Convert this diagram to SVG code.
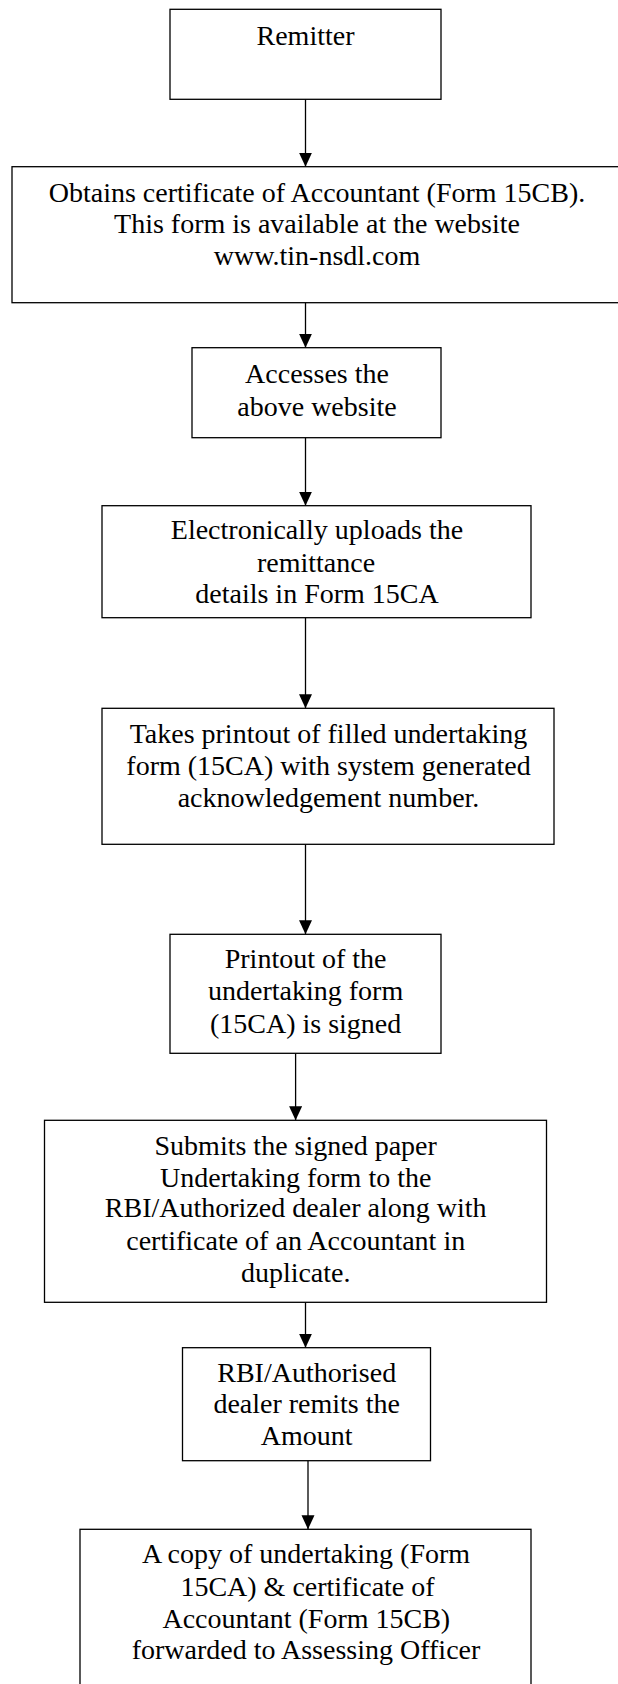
<svg xmlns="http://www.w3.org/2000/svg" width="618" height="1684" viewBox="0 0 618 1684">
  <style>
    .box { fill: #ffffff; stroke: #000000; stroke-width: 1.3; }
    .lbl { font-family: "Liberation Serif", "Times New Roman", serif; font-size: 28px; fill: #000000; text-anchor: middle; }
    .conn { stroke: #000000; stroke-width: 1.3; fill: none; marker-end: url(#arrow); }
  </style>
  <defs>
    <marker id="arrow" markerUnits="userSpaceOnUse" markerWidth="14" markerHeight="14" refX="14" refY="6.5" orient="auto">
      <path d="M0,0 L14,6.5 L0,13 Z" fill="#000000"/>
    </marker>
  </defs>
  <rect width="618" height="1684" fill="#ffffff"/>

  <g id="connectors">
    <line class="conn" x1="305.5" y1="99.3" x2="305.5" y2="166.7"/>
    <line class="conn" x1="305.5" y1="302.7" x2="305.5" y2="347.7"/>
    <line class="conn" x1="305.5" y1="437.7" x2="305.5" y2="505.7"/>
    <line class="conn" x1="305.5" y1="617.7" x2="305.5" y2="708.3"/>
    <line class="conn" x1="305.5" y1="844.3" x2="305.5" y2="934.3"/>
    <line class="conn" x1="295.6" y1="1053.3" x2="295.6" y2="1120.3"/>
    <line class="conn" x1="305.5" y1="1302.3" x2="305.5" y2="1347.7"/>
    <line class="conn" x1="308" y1="1460.7" x2="308" y2="1529.3"/>
  </g>

  <g id="n1">
    <rect class="box" x="170" y="9.3" width="271" height="90"/>
    <text class="lbl" x="305.5" y="45">Remitter</text>
  </g>

  <g id="n2">
    <rect class="box" x="12" y="166.7" width="620" height="136"/>
    <text class="lbl" x="317" y="201.7">Obtains certificate of Accountant (Form 15CB).</text>
    <text class="lbl" x="317" y="233.3">This form is available at the website</text>
    <text class="lbl" x="317" y="265">www.tin-nsdl.com</text>
  </g>

  <g id="n3">
    <rect class="box" x="192" y="347.7" width="249" height="90"/>
    <text class="lbl" x="317" y="383.3">Accesses the</text>
    <text class="lbl" x="317" y="415.7">above website</text>
  </g>

  <g id="n4">
    <rect class="box" x="102" y="505.7" width="429" height="112"/>
    <text class="lbl" x="317" y="539.3">Electronically uploads the</text>
    <text class="lbl" x="316" y="571.7">remittance</text>
    <text class="lbl" x="317" y="603.3">details in Form 15CA</text>
  </g>

  <g id="n5">
    <rect class="box" x="102" y="708.3" width="452" height="136"/>
    <text class="lbl" x="328.5" y="743.3">Takes printout of filled undertaking</text>
    <text class="lbl" x="328.5" y="775">form (15CA) with system generated</text>
    <text class="lbl" x="328.5" y="806.7">acknowledgement number.</text>
  </g>

  <g id="n6">
    <rect class="box" x="170" y="934.3" width="271" height="119"/>
    <text class="lbl" x="305.6" y="968.3">Printout of the</text>
    <text class="lbl" x="305.6" y="1000">undertaking form</text>
    <text class="lbl" x="305.6" y="1032.7">(15CA) is signed</text>
  </g>

  <g id="n7">
    <rect class="box" x="44.5" y="1120.3" width="502" height="182"/>
    <text class="lbl" x="295.7" y="1155">Submits the signed paper</text>
    <text class="lbl" x="295.7" y="1186.7">Undertaking form to the</text>
    <text class="lbl" x="295.7" y="1217.3">RBI/Authorized dealer along with</text>
    <text class="lbl" x="295.7" y="1250">certificate of an Accountant in</text>
    <text class="lbl" x="295.7" y="1281.7">duplicate.</text>
  </g>

  <g id="n8">
    <rect class="box" x="182.5" y="1347.7" width="248" height="113"/>
    <text class="lbl" x="306.7" y="1381.7">RBI/Authorised</text>
    <text class="lbl" x="306.7" y="1413.3">dealer remits the</text>
    <text class="lbl" x="306.7" y="1445">Amount</text>
  </g>

  <g id="n9">
    <rect class="box" x="80" y="1529.3" width="451" height="200"/>
    <text class="lbl" x="306" y="1563.3">A copy of undertaking (Form</text>
    <text class="lbl" x="307.5" y="1595.7">15CA) &amp; certificate of</text>
    <text class="lbl" x="306.3" y="1628.3">Accountant (Form 15CB)</text>
    <text class="lbl" x="306" y="1659.3">forwarded to Assessing Officer</text>
  </g>
</svg>
